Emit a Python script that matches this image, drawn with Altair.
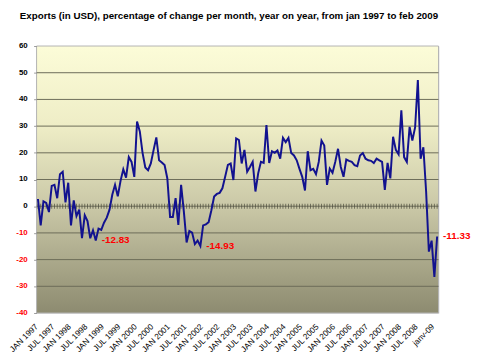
import altair as alt
import pandas as pd

# ---- data ----
month_abbr = ["JAN", "FEB", "MAR", "APR", "MAY", "JUN",
              "JUL", "AUG", "SEP", "OCT", "NOV", "DEC"]
years = list(range(1997, 2009))
extra_months = ["janv-09", "févr-09"]

values = [
    2.7, -7.2, 1.8, 1.2, -2.2, 7.6, 8.0, 3.0, 12.0, 12.9, 1.4, 8.8,          # 1997
    -7.2, 2.2, -3.7, -1.3, -12.0, -3.4, -5.6, -12.0, -9.0, -12.83, -8.4, -8.9,  # 1998
    -6.2, -4.3, -1.3, 4.3, 8.0, 3.7, 9.5, 13.8, 10.7, 18.4, 16.6, 11.0,      # 1999
    31.7, 28.0, 20.0, 14.5, 13.5, 16.0, 21.0, 25.8, 17.2, 16.4, 15.4, 10.4,  # 2000
    -4.0, -4.0, 3.0, -7.0, 8.0, -2.0, -13.6, -9.3, -9.9, -14.2, -12.9, -14.93,  # 2001
    -7.2, -6.8, -6.0, -1.5, 3.6, 4.6, 5.0, 6.7, 11.0, 15.5, 16.0, 9.8,       # 2002
    25.4, 24.8, 16.0, 21.1, 12.9, 14.7, 16.6, 5.5, 12.3, 16.6, 16.2, 30.4,   # 2003
    16.2, 20.6, 20.0, 20.9, 17.8, 25.6, 24.0, 25.6, 19.9, 19.0, 17.2, 14.0,  # 2004
    11.0, 5.9, 20.6, 13.5, 14.0, 12.0, 16.6, 24.6, 22.7, 8.0, 14.1, 12.5,    # 2005
    16.6, 21.5, 14.7, 11.0, 17.5, 17.0, 16.6, 15.4, 15.0, 19.0, 19.9, 17.8,  # 2006
    17.2, 17.0, 16.2, 17.8, 17.2, 16.6, 6.1, 16.2, 10.4, 26.0, 21.1, 19.4,   # 2007
    35.9, 18.4, 16.6, 29.7, 24.6, 29.5, 47.3, 17.8, 22.1, 5.5, -17.0, -12.9, # 2008
    -26.5, -11.33,                                                           # 2009
]

tick_labels = [
    "JAN 1997", "JUL 1997", "JAN 1998", "JUL 1998", "JAN 1999", "JUL 1999",
    "JAN 2000", "JUL 2000", "JAN 2001", "JUL 2001", "JAN 2002", "JUL 2002",
    "JAN 2003", "JUL 2003", "JAN 2004", "JUL 2004", "JAN 2005", "JUL 2005",
    "JAN 2006", "JUL 2006", "JAN 2007", "JUL 2007", "JAN 2008", "JUL 2008",
    "janv-09",
]
y_ticks = [-40, -30, -20, -10, 0, 10, 20, 30, 40, 50, 60]
grid_values = [-30, -20, -10, 0, 10, 20, 30, 40, 50]
label_index = [21, 59, 145]

title_text = ("Exports (in USD), percentage of change per month, year on year, "
              "from jan 1997 to feb 2009")

months = [f"{m} {y}" for y in years for m in month_abbr] + extra_months

df = pd.DataFrame({"month": months, "value": values})
lab_df = df.iloc[label_index].reset_index(drop=True)
lab_df["label"] = [f"{v:.2f}" for v in lab_df["value"]]
grid_df = pd.DataFrame({"value": grid_values})
ytick_df = pd.DataFrame({"value": y_ticks, "lab": [str(v) for v in y_ticks]})
bg_df = pd.DataFrame({"a": [0]})

W, H = 408, 271
FONT = "Liberation Sans"

x_enc = alt.X(
    "month:N", sort=None,
    scale=alt.Scale(type="point", padding=0.5),
    axis=alt.Axis(values=tick_labels, labelAngle=-45, labelFontSize=8.3,
                  labelFont=FONT, labelColor="#000000", ticks=False,
                  domain=False, labelPadding=9, labelOffset=-5,
                  labelOverlap=False, title=None, zindex=1),
)
y_scale = alt.Scale(domain=[-40, 60], nice=False, zero=False)
y_axis = alt.Axis(values=y_ticks, grid=False, domain=False, labels=False,
                  tickSize=3, tickColor="#9a9a9a", title=None, zindex=1)
y_enc = alt.Y("value:Q", scale=y_scale, axis=y_axis)

gradient = alt.Gradient(
    gradient="linear", x1=0, x2=0, y1=0, y2=1,
    stops=[
        alt.GradientStop(offset=0, color="#fcfcd8"),
        alt.GradientStop(offset=0.3, color="#eeedc6"),
        alt.GradientStop(offset=0.6, color="#cac8a7"),
        alt.GradientStop(offset=1, color="#8d8b70"),
    ],
)

bg = alt.Chart(bg_df).mark_rect(fill=gradient, stroke="#b4b4b4", strokeWidth=1).encode(
    x=alt.value(0), x2=alt.value(W), y=alt.value(0), y2=alt.value(H)
)

grid = alt.Chart(grid_df).mark_rule(color="#6c6c58", strokeWidth=1).encode(y=y_enc)

zero_ticks = alt.Chart(df).mark_tick(
    orient="vertical", size=5, thickness=1, color="#4a4a3a"
).encode(x=x_enc, y=alt.Y(datum=0, scale=y_scale, axis=y_axis))

line = alt.Chart(df).mark_line(color="#12128f", strokeWidth=2).encode(x=x_enc, y=y_enc)

labels = alt.Chart(lab_df).mark_text(
    align="left", baseline="middle", dx=6, color="#ff0000",
    fontSize=10, fontWeight="bold", font=FONT
).encode(x=x_enc, y=y_enc, text="label:N")

y_labels = alt.Chart(ytick_df).mark_text(
    align="right", baseline="middle", dx=-9, fontSize=8, fontWeight="bold",
    font=FONT
).encode(
    x=alt.value(0), y=y_enc, text="lab:N",
    color=alt.condition(alt.datum.value < 0, alt.value("#ff0000"),
                        alt.value("#000000")),
)

chart = alt.layer(bg, grid, zero_ticks, line, labels, y_labels).properties(
    width=W, height=H,
    title=alt.TitleParams(title_text, anchor="start", frame="group", dx=-17,
                          offset=22, fontSize=9.9, fontWeight="bold",
                          font=FONT, color="#000000"),
    autosize=alt.AutoSizeParams(type="none"),
    padding={"left": 29, "top": 36, "right": 34, "bottom": 38},
).configure_view(stroke=None).configure(background="#ffffff")

chart.save("out.html", embed_options={"renderer": "svg", "actions": False})
